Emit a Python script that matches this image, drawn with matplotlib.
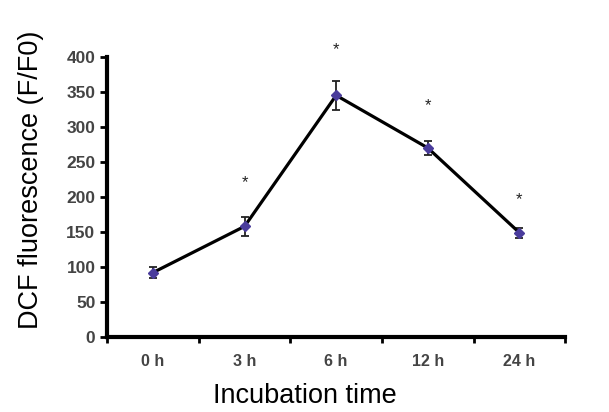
import numpy as np
import matplotlib.pyplot as plt
from matplotlib.ticker import FixedLocator

# data
times = ['0 h', '3 h', '6 h', '12 h', '24 h']
fluor = [92, 158, 345, 270, 149]
err = [8, 14, 21, 10, 7]
star_y = [None, 220, 410, 330, 196]

plt.rcParams['font.family'] = ['Liberation Sans', 'DejaVu Sans']

fig = plt.figure(figsize=(6.09, 4.12), dpi=100)
ax = fig.add_axes([0.176, 0.182, 0.752, 0.680])

x = np.arange(len(times))
ax.errorbar(x, fluor, yerr=err, color='black', lw=2.3, ecolor='#222222',
            elinewidth=1.3, capsize=3, capthick=1.3,
            marker='D', markersize=5.5, markerfacecolor='#4a3c9c',
            markeredgecolor='#4a3c9c', zorder=3)

for xi, sy in zip(x, star_y):
    if sy is not None:
        ax.text(xi, sy, '*', ha='center', va='center', fontsize=12,
                color='#222222', clip_on=False)

ax.set_xlim(-0.5, len(times) - 0.5)
ax.set_ylim(0, 400)
ax.set_yticks(np.arange(0, 401, 50))
ax.set_xticks(x)
ax.set_xticklabels(times, fontweight='bold')
ax.set_yticklabels([str(v) for v in range(0, 401, 50)], fontweight='bold')
ax.xaxis.set_minor_locator(FixedLocator(np.arange(-0.5, len(times), 1.0)))
ax.tick_params(axis='x', which='major', length=0, pad=12, labelsize=11.5, labelcolor='#444444')
ax.tick_params(axis='x', which='minor', length=4, width=2, direction='out')
ax.tick_params(axis='y', length=5, width=2, labelsize=12.5, labelcolor='#444444')

for side in ['top', 'right']:
    ax.spines[side].set_visible(False)
for side in ['left', 'bottom']:
    ax.spines[side].set_linewidth(3)

ax.set_ylabel('DCF fluorescence (F/F0)', fontsize=19.5)
ax.yaxis.set_label_coords(-0.138, 0.56)
ax.set_xlabel('Incubation time', fontsize=19.5)
ax.xaxis.set_label_coords(0.432, -0.165)

fig.savefig('out.png', dpi=100)
